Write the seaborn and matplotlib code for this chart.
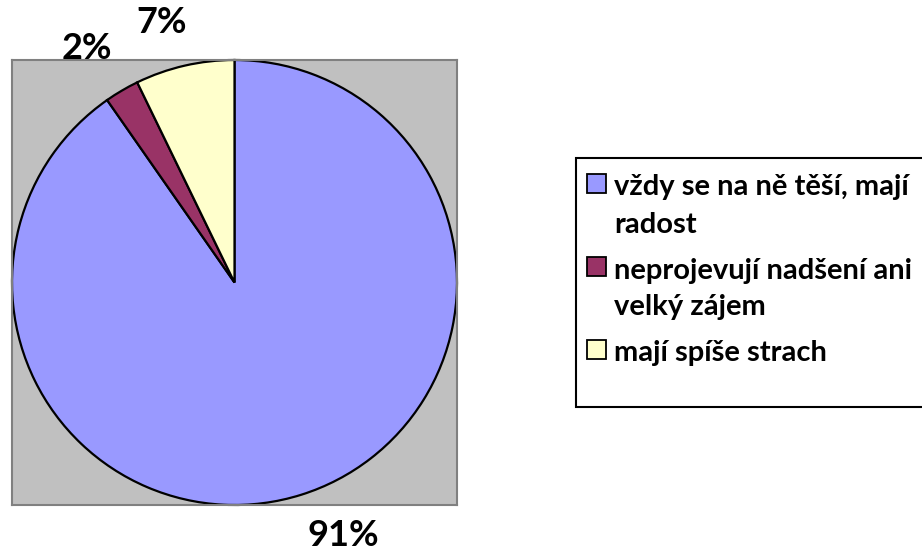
import matplotlib
matplotlib.use("Agg")
import matplotlib.pyplot as plt
from matplotlib.patches import Rectangle
import seaborn as sns

# ================= DATA =================
categorias = [
    "vždy se na ně těší, mají\nradost",
    "neprojevují nadšení ani\nvelký zájem",
    "mají spíše strach",
]
valores = [90.3, 2.5, 7.2]
etiquetas = ["91%", "2%", "7%"]
colores = ["#9999FF", "#993366", "#FFFFCC"]

# ================= STYLE =================
sns.set_theme(style="white")
plt.rcParams["font.family"] = ["Lato", "DejaVu Sans"]
plt.rcParams["font.weight"] = "bold"

W, H = 922, 553
fig = plt.figure(figsize=(W / 100, H / 100), dpi=100)
fig.patch.set_facecolor("white")

# plot area (grey square)
ax = fig.add_axes([12 / W, (H - 505) / H, 445 / W, 445 / H])

wedges, _ = ax.pie(
    valores,
    colors=colores,
    startangle=90,
    counterclock=False,
    radius=1.0,
    frame=True,
    wedgeprops=dict(edgecolor="black", linewidth=1.6),
)
ax.set_facecolor("#C0C0C0")
ax.patch.set_visible(True)
for s in ax.spines.values():
    s.set_visible(True)
    s.set_color("#808080")
    s.set_linewidth(1.5)
ax.set_xlim(-1.0, 1.0)
ax.set_ylim(-1.0, 1.0)
ax.set_aspect("equal")
ax.set_xticks([])
ax.set_yticks([])

# percentage labels (outside, Excel-like placement)
pos_etiquetas = [(0.49, -1.137), (-0.665, 1.052), (-0.326, 1.169)]
for txt, (lx, ly) in zip(etiquetas, pos_etiquetas):
    ax.text(lx, ly, txt, ha="center", va="center", fontsize=26,
            fontweight="bold", color="black", clip_on=False)

# ================= LEYENDA (manual, Excel-like) =================
def px(x, y):
    # pixel (top-left origin) -> figure fraction
    return x / W, 1 - y / H

box = Rectangle(px(576, 407), (W - 576 + 5) / W, (407 - 158) / H,
                transform=fig.transFigure, facecolor="white",
                edgecolor="black", linewidth=1.5, clip_on=False)
fig.patches.append(box)

linea = 37      # line pitch in px
hueco = 9       # extra gap between entries
y = 185
for cat, col in zip(categorias, colores):
    sq = Rectangle(px(587, y + 8), 19 / W, 19 / H, transform=fig.transFigure,
                   facecolor=col, edgecolor="black", linewidth=1.3)
    fig.patches.append(sq)
    for i, parte in enumerate(cat.split("\n")):
        fx, fy = px(614, y + i * linea)
        fig.text(fx, fy, parte, ha="left", va="center_baseline",
                 fontsize=21, fontweight="bold", color="black")
    y += linea * len(cat.split("\n")) + hueco

fig.savefig("out.png", dpi=100, facecolor="white")
